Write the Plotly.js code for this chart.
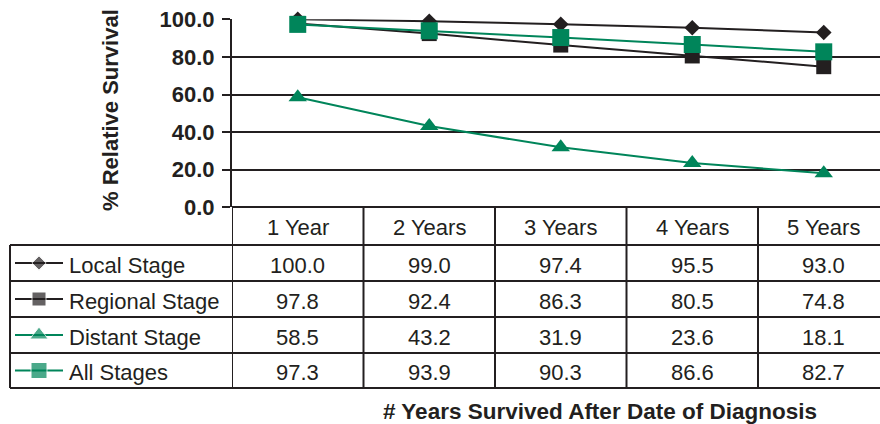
<!DOCTYPE html>
<html><head><meta charset="utf-8">
<script src="https://cdn.plot.ly/plotly-3.0.1.min.js"></script>
<style>html,body{margin:0;padding:0;background:#fff;overflow:hidden}</style>
</head><body><div id="chart" style="width:880px;height:424px"></div>
<script>
// ---- data ----
const years = ['1 Year', '2 Years', '3 Years', '4 Years', '5 Years'];
const seriesNames = ['Local Stage', 'Regional Stage', 'Distant Stage', 'All Stages'];
const localStage = [100.0, 99.0, 97.4, 95.5, 93.0];
const regionalStage = [97.8, 92.4, 86.3, 80.5, 74.8];
const distantStage = [58.5, 43.2, 31.9, 23.6, 18.1];
const allStages = [97.3, 93.9, 90.3, 86.6, 82.7];
const yTickVals = [0, 20, 40, 60, 80, 100];
const yAxisTitle = '% Relative Survival';
const xAxisTitle = '# Years Survived After Date of Diagnosis';

// ---- styling ----
const W = 880, H = 424;
const INK = '#231f20';
const GREEN = '#00855a';
const FONT = 'Liberation Sans, Arial, Helvetica, sans-serif';
const px = x => x / W;            // pixel -> paper x
const py = y => 1 - y / H;        // pixel -> paper y

const allSeries = [localStage, regionalStage, distantStage, allStages];
const styles = [
  {color: INK,   symbol: 'diamond',     size: 12, keySize: 11},
  {color: INK,   symbol: 'square',      size: 15, keySize: 14},
  {color: GREEN, symbol: 'triangle-up', size: 16, keySize: 16},
  {color: GREEN, symbol: 'square',      size: 17, keySize: 16}
];

const plotLeft = 232, plotRight = 880, plotTop = 19.3, plotBottom = 207.3;
const colW = 131.5;
const xRange = [-0.5, -0.5 + (plotRight - plotLeft) / colW];

// table geometry (pixels)
const headerCenter = 227.5;
const rowLines = [245, 281, 317, 353, 388];
const textShift = 2;
const tableLeft = 10;

const traces = [];
allSeries.forEach((vals, i) => {
  traces.push({
    type: 'scatter', mode: 'lines+markers', name: seriesNames[i],
    x: years, y: vals, xaxis: 'x', yaxis: 'y', cliponaxis: false,
    line: {color: styles[i].color, width: 2},
    marker: {color: styles[i].color, symbol: styles[i].symbol, size: styles[i].size},
    showlegend: false, hoverinfo: 'x+y+name'
  });
});
// legend keys in the table rows (full-page pixel axes)
allSeries.forEach((vals, i) => {
  const cy = (rowLines[i] + rowLines[i + 1]) / 2;
  traces.push({
    type: 'scatter', mode: 'lines+markers', xaxis: 'x2', yaxis: 'y2',
    x: [15, 39, 63], y: [cy, cy, cy], cliponaxis: false,
    line: {color: styles[i].color, width: 2},
    marker: {color: styles[i].color, symbol: styles[i].symbol, size: [0, styles[i].keySize, 0]},
    showlegend: false, hoverinfo: 'skip'
  });
});

const shapes = [];
const lineStyle = {color: INK, width: 2};
// vertical column lines (including the axis line extension)
for (let k = 0; k <= years.length; k++) {
  const xv = k - 0.5;
  if (xv > xRange[1]) break;
  shapes.push({type: 'line', xref: 'x', yref: 'paper', x0: xv, x1: xv,
    y0: py(plotBottom), y1: py(rowLines[rowLines.length - 1]), line: lineStyle});
}
// table left border
shapes.push({type: 'line', xref: 'paper', yref: 'paper', x0: px(tableLeft), x1: px(tableLeft),
  y0: py(rowLines[0]), y1: py(rowLines[rowLines.length - 1]), line: lineStyle});
// horizontal row lines
rowLines.forEach(r => shapes.push({type: 'line', xref: 'paper', yref: 'paper',
  x0: px(tableLeft), x1: 1, y0: py(r), y1: py(r), line: lineStyle}));

const annotations = [];
const cellFont = {family: FONT, size: 22, color: INK};
years.forEach((yr, j) => {
  annotations.push({xref: 'x', yref: 'paper', x: yr, y: py(headerCenter), text: yr,
    showarrow: false, font: cellFont, xanchor: 'center', yanchor: 'middle'});
});
allSeries.forEach((vals, i) => {
  const cy = (rowLines[i] + rowLines[i + 1]) / 2 + textShift;
  annotations.push({xref: 'paper', yref: 'paper', x: px(67), y: py(cy), text: seriesNames[i],
    showarrow: false, font: cellFont, xanchor: 'left', yanchor: 'middle'});
  vals.forEach((v, j) => {
    annotations.push({xref: 'x', yref: 'paper', x: years[j], y: py(cy), text: v.toFixed(1),
      showarrow: false, font: cellFont, xanchor: 'center', yanchor: 'middle'});
  });
});
annotations.push({xref: 'paper', yref: 'paper', x: px(110), y: py(110), text: yAxisTitle,
  textangle: -90, showarrow: false, xanchor: 'center', yanchor: 'middle',
  font: {family: FONT, size: 22, color: INK, weight: 'bold'}});
annotations.push({xref: 'paper', yref: 'paper', x: px(600), y: py(411), text: xAxisTitle,
  showarrow: false, xanchor: 'center', yanchor: 'middle',
  font: {family: FONT, size: 22.5, color: INK, weight: 'bold'}});

const layout = {
  width: W, height: H,
  margin: {l: 0, r: 0, t: 0, b: 0},
  paper_bgcolor: '#fff', plot_bgcolor: 'rgba(0,0,0,0)',
  font: {family: FONT, color: INK},
  showlegend: false,
  xaxis: {
    domain: [px(plotLeft), 1], range: xRange, type: 'category', categoryorder: 'array', categoryarray: years,
    showgrid: false, zeroline: false, showline: false, showticklabels: false, ticks: '', fixedrange: true
  },
  yaxis: {
    domain: [py(plotBottom), py(plotTop)], range: [0, 100],
    tickvals: yTickVals, tickformat: '.1f',
    showgrid: true, gridcolor: INK, gridwidth: 2,
    zeroline: true, zerolinecolor: INK, zerolinewidth: 2,
    showline: true, linecolor: INK, linewidth: 2,
    ticks: 'outside', ticklen: 8, tickwidth: 2, tickcolor: INK, ticklabelstandoff: 3,
    tickfont: {family: FONT, size: 22, color: INK, weight: 'bold'}, fixedrange: true
  },
  xaxis2: {domain: [0, 1], range: [0, W], anchor: 'y2', visible: false, fixedrange: true},
  yaxis2: {domain: [0, 1], range: [H, 0], anchor: 'x2', visible: false, fixedrange: true},
  shapes: shapes,
  annotations: annotations
};

Plotly.newPlot('chart', traces, layout, {displayModeBar: false, staticPlot: true});
</script>
</body></html>
